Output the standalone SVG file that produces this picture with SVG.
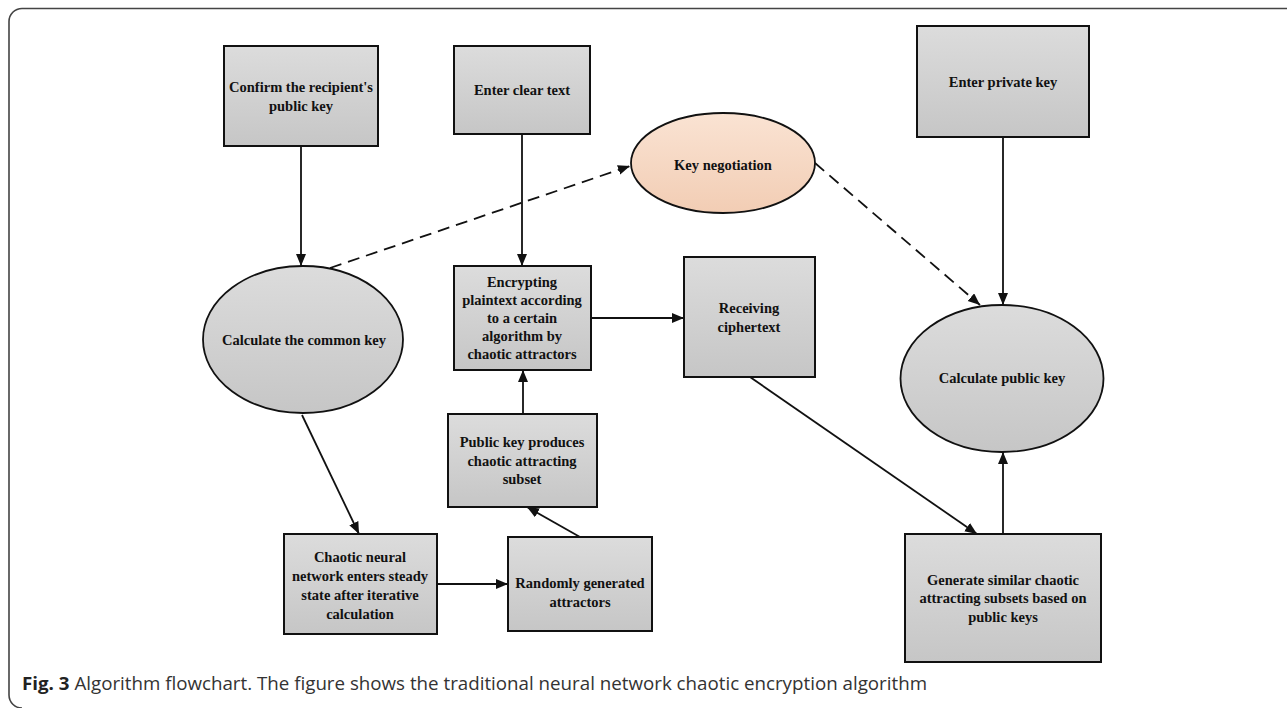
<svg xmlns="http://www.w3.org/2000/svg" width="1287" height="708" viewBox="0 0 1287 708">
  <style>
    .box { stroke: #111; stroke-width: 2; fill: url(#gray); }
    .oval { stroke: #111; stroke-width: 1.8; fill: url(#gray); }
    .peach { stroke: #111; stroke-width: 1.8; fill: url(#peach); }
    .lbl { font-family: "Liberation Serif", "Times New Roman", serif; font-weight: bold; font-size: 14.5px; fill: #111; text-anchor: middle; }
    .edge { stroke: #111; stroke-width: 1.8; fill: none; marker-end: url(#arrow); }
    .dash { stroke-dasharray: 12 7; }
    .cap { font-family: "Open Sans", "Noto Sans", sans-serif; font-size: 18px; fill: #333; }
  </style>
  <defs>
    <linearGradient id="gray" x1="0" y1="0" x2="0" y2="1">
      <stop offset="0" stop-color="#dcdcdc"/>
      <stop offset="1" stop-color="#c6c6c6"/>
    </linearGradient>
    <linearGradient id="peach" x1="0" y1="0" x2="0" y2="1">
      <stop offset="0" stop-color="#fae3d3"/>
      <stop offset="1" stop-color="#f2cdb4"/>
    </linearGradient>
    <marker id="arrow" markerUnits="userSpaceOnUse" markerWidth="14" markerHeight="12" refX="12" refY="5" orient="auto">
      <path d="M0,0 L12,5 L0,10 Z" fill="#111"/>
    </marker>
  </defs>

  <rect width="1287" height="708" fill="#fff"/>
  <!-- outer frame, open to the right -->
  <path d="M1287,8.5 H22 A13,13 0 0 0 9,21.5 V695 A13,13 0 0 0 22,708" fill="none" stroke="#444" stroke-width="1.6"/>

  <!-- connectors -->
  <g id="connectors">
    <line class="edge" x1="301" y1="146" x2="301" y2="266"/>
    <line class="edge" x1="522" y1="134" x2="522" y2="266"/>
    <line class="edge" x1="1003" y1="137" x2="1003" y2="305"/>
    <line class="edge dash" x1="330" y1="268" x2="630" y2="166"/>
    <line class="edge dash" x1="815" y1="163" x2="980" y2="305"/>
    <line class="edge" x1="591" y1="318" x2="684" y2="318"/>
    <line class="edge" x1="523" y1="414" x2="523" y2="370"/>
    <line class="edge" x1="580" y1="537" x2="527" y2="507"/>
    <line class="edge" x1="302" y1="415" x2="359" y2="534"/>
    <line class="edge" x1="437" y1="584" x2="508" y2="584"/>
    <line class="edge" x1="750" y1="377" x2="977" y2="534"/>
    <line class="edge" x1="1003" y1="534" x2="1003" y2="452"/>
  </g>

  <g id="confirm-key">
    <rect class="box" x="224" y="46" width="154" height="100"/>
    <text class="lbl" x="301" y="92">Confirm the recipient's</text>
    <text class="lbl" x="301" y="111">public key</text>
  </g>

  <g id="enter-clear-text">
    <rect class="box" x="454" y="46" width="136" height="88"/>
    <text class="lbl" x="522" y="95">Enter clear text</text>
  </g>

  <g id="enter-private-key">
    <rect class="box" x="917" y="26" width="172" height="111"/>
    <text class="lbl" x="1003" y="87">Enter private key</text>
  </g>

  <g id="key-negotiation">
    <ellipse class="peach" cx="723" cy="163" rx="92" ry="50"/>
    <text class="lbl" x="723" y="170">Key negotiation</text>
  </g>

  <g id="common-key">
    <ellipse class="oval" cx="303" cy="339.5" rx="100" ry="73.5"/>
    <text class="lbl" x="304" y="345">Calculate the common key</text>
  </g>

  <g id="encrypting">
    <rect class="box" x="454" y="266" width="137" height="104"/>
    <text class="lbl" x="522" y="287">Encrypting</text>
    <text class="lbl" x="522" y="305">plaintext according</text>
    <text class="lbl" x="522" y="323">to a certain</text>
    <text class="lbl" x="522" y="341">algorithm by</text>
    <text class="lbl" x="522" y="359">chaotic attractors</text>
  </g>

  <g id="receiving">
    <rect class="box" x="684" y="257" width="131" height="120"/>
    <text class="lbl" x="749" y="313">Receiving</text>
    <text class="lbl" x="749" y="332">ciphertext</text>
  </g>

  <g id="public-key-subset">
    <rect class="box" x="448" y="414" width="149" height="93"/>
    <text class="lbl" x="522" y="447">Public key produces</text>
    <text class="lbl" x="522" y="466">chaotic attracting</text>
    <text class="lbl" x="522" y="484">subset</text>
  </g>

  <g id="chaotic-network">
    <rect class="box" x="284" y="534" width="153" height="100"/>
    <text class="lbl" x="360" y="562">Chaotic neural</text>
    <text class="lbl" x="360" y="581">network enters steady</text>
    <text class="lbl" x="360" y="600">state after iterative</text>
    <text class="lbl" x="360" y="619">calculation</text>
  </g>

  <g id="random-attractors">
    <rect class="box" x="508" y="537" width="144" height="94"/>
    <text class="lbl" x="580" y="588">Randomly generated</text>
    <text class="lbl" x="580" y="607">attractors</text>
  </g>

  <g id="public-key">
    <ellipse class="oval" cx="1002" cy="378.5" rx="101.5" ry="73.5"/>
    <text class="lbl" x="1002" y="383">Calculate public key</text>
  </g>

  <g id="similar-subsets">
    <rect class="box" x="905" y="534" width="196" height="128"/>
    <text class="lbl" x="1003" y="585">Generate similar chaotic</text>
    <text class="lbl" x="1003" y="603">attracting subsets based on</text>
    <text class="lbl" x="1003" y="622">public keys</text>
  </g>

  <text class="cap" x="22" y="690" textLength="905" lengthAdjust="spacingAndGlyphs"><tspan font-weight="bold" fill="#222">Fig. 3</tspan> Algorithm flowchart. The figure shows the traditional neural network chaotic encryption algorithm</text>
</svg>
